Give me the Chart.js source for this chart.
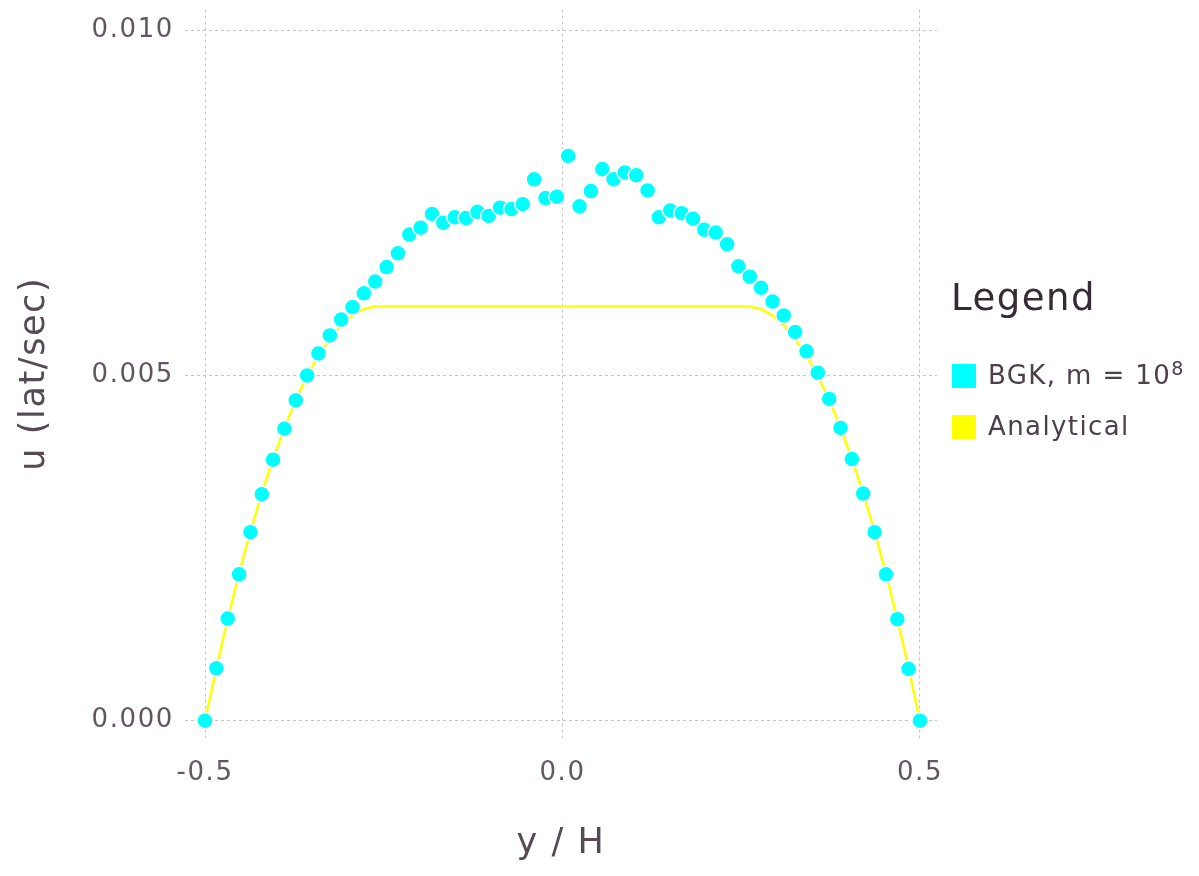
<!DOCTYPE html>
<html>
<head>
<meta charset="utf-8">
<script src="https://cdn.jsdelivr.net/npm/chart.js@4.4.1/dist/chart.umd.min.js"></script>
<style>
  body { margin: 0; background: #fff; }
  #wrap { position: relative; width: 1199px; height: 876px; }
  #legenda { position: absolute; left: 951px; top: 270px; font-family: "DejaVu Sans", sans-serif; }
  #legenda .titulo { font-size: 37px; color: #362a35; letter-spacing: 1.5px; line-height: 56px; }
  #legenda .item { position: absolute; left: 0; width: 260px; height: 26px; font-size: 26px; color: #4c404b; letter-spacing: 1.4px; }
  #legenda .cx { position: absolute; left: 0; top: 0; width: 26px; height: 26px; box-sizing: border-box; border: 1px solid #fff; }
  #legenda .txt { position: absolute; left: 37px; top: -3px; line-height: 30px; white-space: nowrap; }
  #legenda sup { font-size: 19px; vertical-align: 9px; line-height: 0; }
</style>
</head>
<body>
<div id="wrap">
  <canvas id="grafico" width="1199" height="876"></canvas>
  <div id="legenda">
    <div class="titulo">Legend</div>
    <div class="item" style="top:93px"><div class="cx" style="background:#00ffff"></div><div class="txt">BGK, m = 10<sup>8</sup></div></div>
    <div class="item" style="top:144px"><div class="cx" style="background:#ffff00"></div><div class="txt">Analytical</div></div>
  </div>
</div>
<script>
// posições y/H (64 nós)
const posicoes = [
  -0.5, -0.4841, -0.4683, -0.4524, -0.4365, -0.4206, -0.4048, -0.3889,
  -0.3730, -0.3571, -0.3413, -0.3254, -0.3095, -0.2937, -0.2778, -0.2619,
  -0.2460, -0.2302, -0.2143, -0.1984, -0.1825, -0.1667, -0.1508, -0.1349,
  -0.1190, -0.1032, -0.0873, -0.0714, -0.0556, -0.0397, -0.0238, -0.0079,
  0.0079, 0.0238, 0.0397, 0.0556, 0.0714, 0.0873, 0.1032, 0.1190,
  0.1349, 0.1508, 0.1667, 0.1825, 0.1984, 0.2143, 0.2302, 0.2460,
  0.2619, 0.2778, 0.2937, 0.3095, 0.3254, 0.3413, 0.3571, 0.3730,
  0.3889, 0.4048, 0.4206, 0.4365, 0.4524, 0.4683, 0.4841, 0.5
];

// BGK, m = 10^8 (simulação)
const velBGK = [
  0, 0.00076, 0.00148, 0.00212, 0.00273, 0.00328, 0.00378, 0.00423,
  0.00464, 0.00500, 0.00532, 0.00558, 0.00581, 0.00599, 0.00619, 0.00636,
  0.00657, 0.00677, 0.00704, 0.00714, 0.00734, 0.00721, 0.00729, 0.00728,
  0.00737, 0.00731, 0.00743, 0.00741, 0.00748, 0.00784, 0.00757, 0.00759,
  0.00818, 0.00745, 0.00767, 0.00799, 0.00784, 0.00794, 0.00790, 0.00768,
  0.00729, 0.00739, 0.00735, 0.00727, 0.00711, 0.00707, 0.00690, 0.00658,
  0.00643, 0.00627, 0.00607, 0.00587, 0.00563, 0.00535, 0.00504, 0.00466,
  0.00424, 0.00379, 0.00329, 0.00273, 0.00212, 0.00147, 0.00075, 0
];

// solução analítica
const velAnalitica = [
  0, 0.00076, 0.00147, 0.00213, 0.00274, 0.00329, 0.00379, 0.00424,
  0.00465, 0.00499, 0.00529, 0.00553, 0.00573, 0.00587, 0.00596, 0.00600,
  0.006, 0.006, 0.006, 0.006, 0.006, 0.006, 0.006, 0.006,
  0.006, 0.006, 0.006, 0.006, 0.006, 0.006, 0.006, 0.006,
  0.006, 0.006, 0.006, 0.006, 0.006, 0.006, 0.006, 0.006,
  0.006, 0.006, 0.006, 0.006, 0.006, 0.006, 0.006, 0.006,
  0.00600, 0.00596, 0.00587, 0.00573, 0.00553, 0.00529, 0.00499, 0.00465,
  0.00424, 0.00379, 0.00329, 0.00274, 0.00213, 0.00147, 0.00076, 0
];

const ticksX = [-0.5, 0, 0.5];
const ticksY = [0, 0.005, 0.010];

const pares = (ys) => posicoes.map((x, i) => ({ x, y: ys[i] }));

// espaçamento das letras (fonte do original é mais larga)
const espacamento = {
  id: 'espacamento',
  beforeDraw(chart) { chart.ctx.letterSpacing = '1.6px'; }
};

const fonteTick = { family: 'DejaVu Sans', size: 26 };
const fonteTitulo = { family: 'DejaVu Sans', size: 35 };

// sem folga automática para os rótulos
const semFolga = (s) => {
  s.paddingTop = 0; s.paddingBottom = 0; s.paddingLeft = 0; s.paddingRight = 0;
};

new Chart(document.getElementById('grafico'), {
  type: 'scatter',
  data: {
    datasets: [
      {
        label: 'BGK, m = 10^8',
        data: pares(velBGK),
        backgroundColor: '#00ffff',
        borderColor: '#ffffff',
        borderWidth: 1.5,
        pointRadius: 8,
        order: 0
      },
      {
        label: 'Analytical',
        data: pares(velAnalitica),
        showLine: true,
        borderColor: '#ffff00',
        borderWidth: 2.5,
        pointRadius: 0,
        fill: false,
        order: 1
      }
    ]
  },
  options: {
    responsive: false,
    animation: false,
    layout: { padding: { left: 0, top: 8, right: 262, bottom: 0 } },
    plugins: { legend: { display: false }, tooltip: { enabled: false } },
    scales: {
      x: {
        type: 'linear',
        min: -0.528,
        max: 0.5238,
        afterBuildTicks: (s) => { s.ticks = ticksX.map(v => ({ value: v })); },
        afterFit: (s) => { s.height = 138; semFolga(s); },
        ticks: {
          padding: 20,
          color: '#625661',
          font: fonteTick,
          callback: (v) => Number(v).toFixed(1)
        },
        grid: { color: '#c4c4d0', lineWidth: 1, drawTicks: false },
        border: { display: false, dash: [3, 3] },
        title: {
          display: true,
          text: 'y / H',
          color: '#564a55',
          font: fonteTitulo,
          padding: { top: 11, bottom: 11 }
        }
      },
      y: {
        type: 'linear',
        min: -0.00025,
        max: 0.0103,
        afterBuildTicks: (s) => { s.ticks = ticksY.map(v => ({ value: v })); },
        afterFit: (s) => { s.width = 185; semFolga(s); },
        ticks: {
          padding: 11,
          color: '#625661',
          font: fonteTick,
          callback: (v) => Number(v).toFixed(3)
        },
        grid: { color: '#c4c4d0', lineWidth: 1, drawTicks: false },
        border: { display: false, dash: [3, 3] },
        title: {
          display: true,
          text: 'u (lat/sec)',
          color: '#564a55',
          font: fonteTitulo,
          padding: { top: 14, bottom: 14 }
        }
      }
    }
  },
  plugins: [espacamento]
});
</script>
</body>
</html>
